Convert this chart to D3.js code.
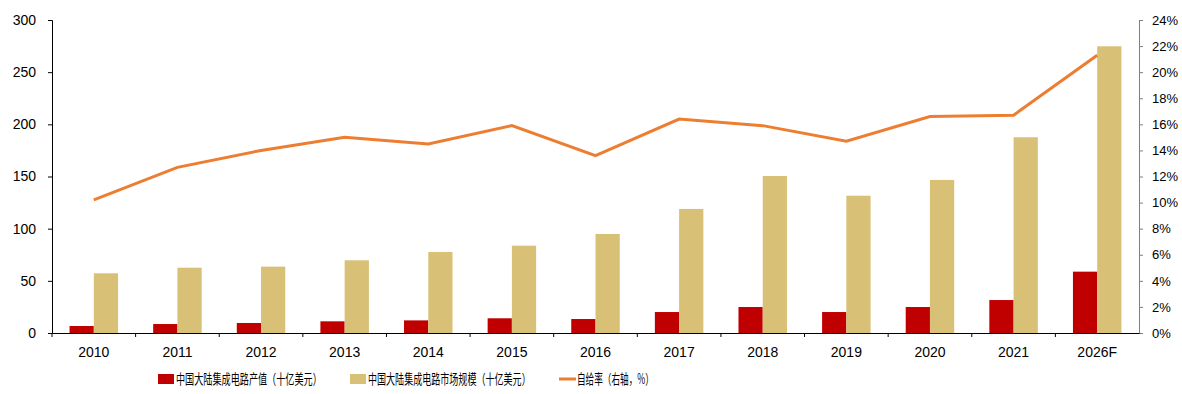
<!DOCTYPE html>
<html>
<head>
<meta charset="utf-8">
<script src="https://cdn.jsdelivr.net/npm/d3@7"></script>
<style>
  body { margin: 0; background: #fff; }
  svg text { font-family: "Liberation Sans", Arial, sans-serif; fill: #000; }
  .cjk { font-family: "Noto Sans CJK SC", sans-serif; }
</style>
</head>
<body>
<div id="chart"></div>
<script>
// categories and series
const years = ["2010", "2011", "2012", "2013", "2014", "2015", "2016", "2017", "2018", "2019", "2020", "2021", "2026F"];
const output_value = [6.7, 8.6, 9.6, 11.2, 12.1, 14.1, 13.4, 20.1, 24.9, 20.1, 24.9, 31.6, 58.8];
const market_size = [57.2, 62.6, 63.6, 69.7, 77.6, 83.7, 94.9, 118.9, 150.5, 131.6, 146.7, 187.6, 274.8];
const self_sufficiency = [10.2, 12.7, 14.0, 15.0, 14.5, 15.9, 13.6, 16.4, 15.9, 14.7, 16.6, 16.7, 21.3];
const left_ticks = [0, 50, 100, 150, 200, 250, 300];
const right_ticks = [0, 2, 4, 6, 8, 10, 12, 14, 16, 18, 20, 22, 24];
const legend_labels = ["中国大陆集成电路产值（十亿美元）", "中国大陆集成电路市场规模（十亿美元）", "自给率（右轴，%）"];

const width = 1182, height = 394;
const margin = { top: 20, right: 43, bottom: 61, left: 52 };
const innerW = width - margin.left - margin.right;
const innerH = height - margin.top - margin.bottom;

const colors = { red: "#C00000", gold: "#D9C077", line: "#ED7D31" };

const svg = d3.select("#chart").append("svg")
  .attr("width", width)
  .attr("height", height);

const g = svg.append("g").attr("transform", "translate(" + margin.left + "," + margin.top + ")");

const x = d3.scaleBand().domain(years).range([0, innerW]);
const y = d3.scaleLinear().domain([0, 300]).range([innerH, 0]);
const y2 = d3.scaleLinear().domain([0, 24]).range([innerH, 0]);

const barW = x.bandwidth() * 0.29;

// bars
g.selectAll(".bar-red")
  .data(years)
  .join("rect")
  .attr("x", (d) => x(d) + x.bandwidth() / 2 - barW)
  .attr("y", (d, i) => y(output_value[i]))
  .attr("width", barW)
  .attr("height", (d, i) => innerH - y(output_value[i]))
  .attr("fill", colors.red);

g.selectAll(".bar-gold")
  .data(years)
  .join("rect")
  .attr("x", (d) => x(d) + x.bandwidth() / 2)
  .attr("y", (d, i) => y(market_size[i]))
  .attr("width", barW)
  .attr("height", (d, i) => innerH - y(market_size[i]))
  .attr("fill", colors.gold);

// line on right axis
const line = d3.line()
  .x((d, i) => x(years[i]) + x.bandwidth() / 2)
  .y((d) => y2(d));

g.append("path")
  .datum(self_sufficiency)
  .attr("d", line)
  .attr("fill", "none")
  .attr("stroke", colors.line)
  .attr("stroke-width", 3);

// left axis
const leftAxis = g.append("g")
  .call(d3.axisLeft(y).tickValues(left_ticks).tickSize(4).tickPadding(12));
leftAxis.select(".domain").attr("stroke", "#000");
leftAxis.selectAll("text").style("font-size", "14px");

// right axis
const rightAxis = g.append("g")
  .attr("transform", "translate(" + innerW + ",0)")
  .call(d3.axisRight(y2).tickValues(right_ticks).tickSize(4).tickPadding(9).tickFormat((d) => d + "%"));
rightAxis.selectAll("path, line").attr("stroke", "#7f7f7f");
rightAxis.selectAll("text").style("font-size", "13px");

// bottom axis: labels centred, ticks at band boundaries
const bottomAxis = g.append("g")
  .attr("transform", "translate(0," + innerH + ")")
  .call(d3.axisBottom(x).tickSize(0).tickPadding(14));
bottomAxis.select(".domain").attr("stroke", "#000");
bottomAxis.selectAll("text").style("font-size", "14px");

bottomAxis.selectAll(".sep")
  .data(years)
  .join("line")
  .attr("x1", (d) => x(d))
  .attr("x2", (d) => x(d))
  .attr("y1", 0)
  .attr("y2", 4)
  .attr("stroke", "#000");

// legend (the source font is narrow, so squeeze the text horizontally)
const legend = svg.append("g").attr("transform", "translate(0,379)");
const legendItems = [
  { x: 158, type: "rect", color: colors.red, w: 146 },
  { x: 350, type: "rect", color: colors.gold, w: 163 },
  { x: 559, type: "line", color: colors.line, w: 77 }
];

legendItems.forEach(function (item, i) {
  if (item.type === "rect") {
    legend.append("rect")
      .attr("x", item.x).attr("y", -5)
      .attr("width", 16).attr("height", 10)
      .attr("fill", item.color);
  } else {
    legend.append("line")
      .attr("x1", item.x).attr("x2", item.x + 17)
      .attr("y1", 0).attr("y2", 0)
      .attr("stroke", item.color).attr("stroke-width", 3);
  }
  const t = legend.append("text")
    .attr("class", "cjk")
    .style("font-size", "14px")
    .text(legend_labels[i]);
  const natural = t.node().getComputedTextLength();
  const sx = item.w / natural;
  t.attr("transform", "translate(" + (item.x + 18) + ",5) scale(" + sx + ",1)");
});
</script>
</body>
</html>
